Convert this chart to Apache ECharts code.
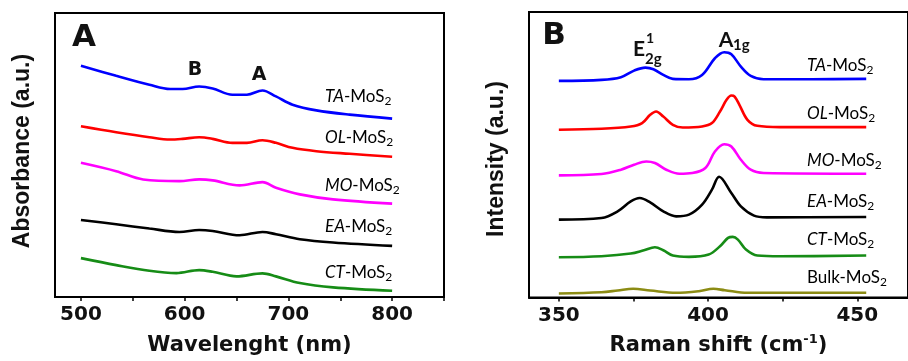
<!DOCTYPE html>
<html><head><meta charset="utf-8">
<script src="https://cdn.jsdelivr.net/npm/echarts@6/dist/echarts.min.js"></script>
<style>html,body{margin:0;padding:0;background:#fff}#c{width:908px;height:361px}</style>
</head><body><div id="c"></div>
<script>
// ---------- Panel A: UV-vis absorbance (a.u., offset), x = wavelength (nm) ----------
const uvTickLabels = [500, 600, 700, 800];
const uvTicks = [500, 550, 600, 650, 700, 750, 800, 850];
const uvTA_x = [500, 534, 566, 586, 598, 614, 627, 646, 660, 675, 688, 704, 727, 759, 800];
const uvTA_y = [232, 222, 213, 208.7, 208.7, 211.3, 209.3, 203, 203, 207.3, 201.3, 193, 187.3, 183, 179];
const uvOL_x = [500, 534, 566, 586, 598, 614, 627, 646, 660, 675, 688, 704, 727, 759, 800];
const uvOL_y = [171.3, 165.3, 160.3, 158, 158.7, 160.3, 158.7, 154.7, 154.7, 157.3, 154.7, 149.7, 146.3, 143.7, 140.7];
const uvMO_x = [500, 534, 560, 595, 614, 627, 653, 675, 688, 711, 743, 800];
const uvMO_y = [134.7, 126.3, 118, 116.3, 118, 117, 112, 115.3, 109.7, 103, 98, 93.7];
const uvEA_x = [500, 534, 566, 595, 614, 627, 653, 675, 688, 711, 743, 800];
const uvEA_y = [77.3, 73, 68.7, 65.3, 67.3, 66.3, 62, 65.3, 63, 58, 54.7, 51.3];
const uvCT_x = [500, 534, 566, 592, 614, 627, 650, 675, 688, 711, 743, 800];
const uvCT_y = [39, 32, 26.3, 24, 27, 25.3, 20.7, 23.7, 20.7, 14, 9.7, 6.3];

// ---------- Panel B: Raman intensity (a.u., offset), x = Raman shift (cm-1) ----------
const ramanTickLabels = [350, 400, 450];
const ramanTicks = [350, 375, 400, 425, 450];
const rmTA_x = [350, 364.3, 370.8, 375.2, 379, 381.7, 385, 388.2, 393.6, 398, 402.3, 405.4, 407.8, 411, 414.3, 418.6, 434.9, 453];
const rmTA_y = [217, 218, 220.7, 227.3, 230.3, 228.7, 223, 219, 218.7, 223, 239.7, 245.7, 243.7, 231.3, 222, 218.7, 218.7, 219];
const rmOL_x = [350, 364.3, 374.1, 377.9, 380.6, 382.6, 385, 388.2, 391.5, 398, 401.3, 404, 406.2, 407.8, 408.9, 410.5, 413.2, 416.5, 424.1, 453];
const rmOL_y = [168, 169, 171.3, 174.7, 183, 186.3, 181.3, 173, 170.3, 171.3, 174.7, 186.3, 198, 202.3, 201.3, 193, 178, 172, 170.7, 170.7];
const rmMO_x = [350, 364.3, 370.8, 375.2, 379.3, 382.2, 386, 390.4, 394.7, 399.1, 402.3, 405.4, 407.8, 411, 414.3, 418.6, 453];
const rmMO_y = [122.3, 123.7, 128, 133, 136.3, 134.7, 128, 124, 124.7, 129.7, 146.3, 153.5, 151.3, 138, 128, 124.7, 124];
const rmEA_x = [350, 364.3, 369.7, 374.1, 377.1, 380.6, 385, 389.3, 393.6, 398, 401.3, 403.7, 407.8, 411, 415.4, 419.7, 453];
const rmEA_y = [78, 79.7, 86.3, 96.3, 99.7, 95.3, 86.3, 81.3, 83, 93, 108, 121, 104.7, 91.3, 82, 80.3, 80.7];
const rmCT_x = [350, 364.3, 374.1, 378.5, 382.2, 385, 388.2, 393.6, 400.2, 404, 406.7, 408.3, 410, 412.7, 416.5, 424.1, 453];
const rmCT_y = [40.3, 41.3, 44, 47.3, 50.3, 47.3, 42, 40.7, 43, 51.3, 59.7, 60.7, 58, 48, 42, 41.3, 42];
const rmBulk_x = [350, 364.3, 369.7, 374.9, 380.6, 389.3, 396.9, 401.8, 405.6, 413.2, 453];
const rmBulk_y = [4, 5.3, 7, 8.7, 7, 4.7, 6.3, 8.7, 7.3, 4.7, 4.7];

const zip = (xs, ys) => xs.map((x, i) => [x, ys[i]]);
const C = { TA: '#0000ff', OL: '#ff0000', MO: '#ff00ff', EA: '#000000', CT: '#168c16', Bulk: '#8c8c14' };

const chart = echarts.init(document.getElementById('c'), null, { renderer: 'canvas' });

function mkSeries(name, xs, ys, color, idx) {
  return {
    name, type: 'line', xAxisIndex: idx, yAxisIndex: idx,
    data: zip(xs, ys), showSymbol: false, smooth: 0.35, silent: true,
    lineStyle: { color, width: 2.6 }
  };
}

const tickFont = { color: '#111', fontFamily: 'DejaVu Sans', fontWeight: 'bold', fontSize: 20 };

function xAxisCfg(idx, min, max, ticks, labels, name, nameGap, nameStyle) {
  return {
    type: 'value', gridIndex: idx, min, max,
    axisLine: { show: true, lineStyle: { color: '#000', width: 2 } },
    axisTick: { show: true, inside: false, length: 4, customValues: ticks, lineStyle: { color: '#000', width: 1.5 } },
    axisLabel: Object.assign({ customValues: labels, margin: 8 }, tickFont),
    splitLine: { show: false },
    name, nameLocation: 'middle', nameGap, nameTextStyle: nameStyle
  };
}

const labelRich = {
  i: { fontFamily: 'Lato', fontStyle: 'italic', fontSize: 17, color: '#111', lineHeight: 20, verticalAlign: 'middle' },
  n: { fontFamily: 'Lato', fontSize: 17, color: '#111', lineHeight: 20, verticalAlign: 'middle' },
  s: { fontFamily: 'Lato', fontSize: 12, color: '#111', lineHeight: 8, verticalAlign: 'bottom' }
};
function sampleLabel(x, y, prefix, italic) {
  const txt = italic ? `{i|${prefix}}{n|-MoS}{s|2}` : `{n|${prefix}-MoS}{s|2}`;
  return { type: 'text', x, y, silent: true, style: { text: txt, rich: labelRich, align: 'left', verticalAlign: 'middle' } };
}
function plainText(x, y, text, font, align) {
  return { type: 'text', x, y, silent: true, style: { text, font, fill: '#111', align: align || 'center', verticalAlign: 'middle' } };
}

const option = {
  animation: false,
  backgroundColor: '#fff',
  grid: [
    { left: 55, top: 13, width: 389, height: 285, show: true, borderColor: '#000', borderWidth: 2, backgroundColor: 'transparent' },
    { left: 529, top: 12, width: 390, height: 286, show: true, borderColor: '#000', borderWidth: 2, backgroundColor: 'transparent' }
  ],
  xAxis: [
    xAxisCfg(0, 475, 850, uvTicks, uvTickLabels, 'Wavelenght (nm)', 38,
      { color: '#111', fontFamily: 'DejaVu Sans', fontWeight: 'bold', fontSize: 21 }),
    xAxisCfg(1, 340, 467, ramanTicks, ramanTickLabels, '{b|Raman shift (cm}{sup|-1}{b|)}', 36,
      { rich: {
        b: { color: '#111', fontFamily: 'DejaVu Sans', fontWeight: 'bold', fontSize: 21, lineHeight: 24, verticalAlign: 'middle' },
        sup: { color: '#111', fontFamily: 'DejaVu Sans', fontWeight: 'bold', fontSize: 13, lineHeight: 10, verticalAlign: 'top' }
      } })
  ],
  yAxis: [
    { type: 'value', gridIndex: 0, min: 0, max: 285, show: false },
    { type: 'value', gridIndex: 1, min: 0, max: 286, show: false }
  ],
  series: [
    mkSeries('TA-MoS2', uvTA_x, uvTA_y, C.TA, 0),
    mkSeries('OL-MoS2', uvOL_x, uvOL_y, C.OL, 0),
    mkSeries('MO-MoS2', uvMO_x, uvMO_y, C.MO, 0),
    mkSeries('EA-MoS2', uvEA_x, uvEA_y, C.EA, 0),
    mkSeries('CT-MoS2', uvCT_x, uvCT_y, C.CT, 0),
    mkSeries('TA-MoS2 R', rmTA_x, rmTA_y, C.TA, 1),
    mkSeries('OL-MoS2 R', rmOL_x, rmOL_y, C.OL, 1),
    mkSeries('MO-MoS2 R', rmMO_x, rmMO_y, C.MO, 1),
    mkSeries('EA-MoS2 R', rmEA_x, rmEA_y, C.EA, 1),
    mkSeries('CT-MoS2 R', rmCT_x, rmCT_y, C.CT, 1),
    mkSeries('Bulk-MoS2 R', rmBulk_x, rmBulk_y, C.Bulk, 1)
  ],
  graphic: [
    // y axis titles
    { type: 'text', x: 23, y: 151, rotation: Math.PI / 2, silent: true,
      style: { text: 'Absorbance (a.u.)', font: 'bold 23px "Liberation Sans"', fill: '#111', align: 'center', verticalAlign: 'middle' } },
    { type: 'text', x: 497, y: 159, rotation: Math.PI / 2, silent: true,
      style: { text: 'Intensity (a.u.)', font: 'bold 23px "Liberation Sans"', fill: '#111', align: 'center', verticalAlign: 'middle' } },
    // panel letters
    plainText(84, 38, 'A', 'bold 31px "DejaVu Sans"'),
    plainText(554, 36, 'B', 'bold 31px "DejaVu Sans"'),
    // UV band labels
    plainText(195, 70, 'B', 'bold 19px "DejaVu Sans"'),
    plainText(259, 75, 'A', 'bold 19px "DejaVu Sans"'),
    // Raman mode labels
    plainText(639, 49, 'E', 'bold 21px Lato'),
    plainText(646, 38, '1', 'bold 14px Lato', 'left'),
    plainText(645, 59, '2g', 'bold 15px Lato', 'left'),
    plainText(726, 40, 'A', 'bold 21px Lato'),
    plainText(733, 45, '1g', 'bold 15px Lato', 'left'),
    // sample labels panel A
    sampleLabel(325, 97, 'TA', true),
    sampleLabel(325, 138, 'OL', true),
    sampleLabel(325, 186, 'MO', true),
    sampleLabel(325, 227, 'EA', true),
    sampleLabel(325, 273, 'CT', true),
    // sample labels panel B
    sampleLabel(807, 66, 'TA', true),
    sampleLabel(807, 114, 'OL', true),
    sampleLabel(807, 161, 'MO', true),
    sampleLabel(807, 202, 'EA', true),
    sampleLabel(807, 240, 'CT', true),
    sampleLabel(807, 278, 'Bulk', false)
  ]
};
chart.setOption(option);
</script></body></html>
